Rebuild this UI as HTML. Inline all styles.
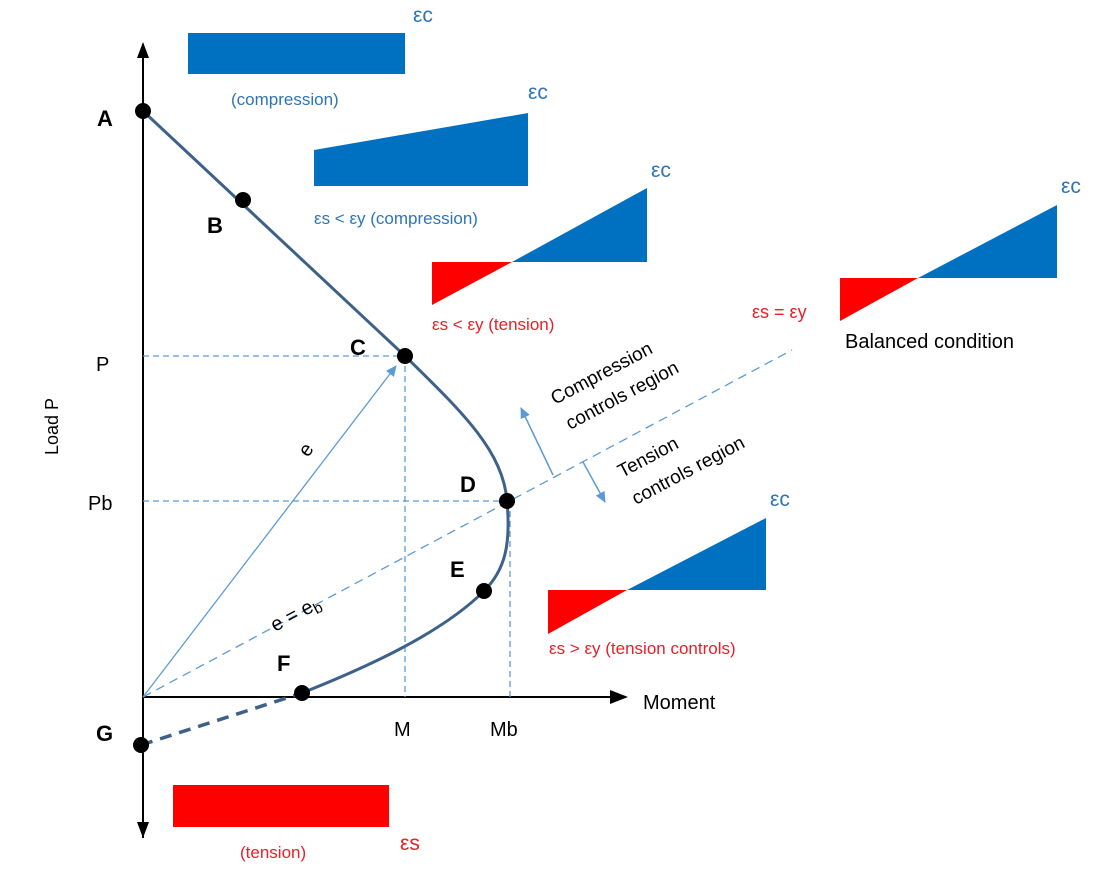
<!DOCTYPE html>
<html><head><meta charset="utf-8"><style>
html,body{margin:0;padding:0;background:#fff}
svg text{font-family:"Liberation Sans","DejaVu Sans",sans-serif}
</style></head><body>
<svg width="1104" height="876" viewBox="0 0 1104 876" xmlns="http://www.w3.org/2000/svg">
<defs>
<marker id="bh" markerWidth="12" markerHeight="12" refX="10" refY="6" orient="auto" markerUnits="userSpaceOnUse"><path d="M0,1 L11,6 L0,11 z" fill="#5b9bd5"/></marker>
</defs>
<line x1="143" y1="838" x2="143" y2="44" stroke="#000" stroke-width="2"/>
<path d="M137,58 L143,42 L149,58 z" fill="#000"/>
<path d="M137,822 L143,838 L149,822 z" fill="#000"/>
<line x1="143" y1="697" x2="612" y2="697" stroke="#000" stroke-width="2"/>
<path d="M610,690 L628,697 L610,704 z" fill="#000"/>
<g stroke="#5b9bd5" stroke-width="1.3" stroke-dasharray="6,4" fill="none">
<line x1="143" y1="356" x2="405" y2="356"/>
<line x1="143" y1="501" x2="507" y2="501"/>
<line x1="405" y1="356" x2="405" y2="697"/>
<line x1="510" y1="501" x2="510" y2="697"/>
<line x1="143" y1="697" x2="792" y2="350" stroke-dasharray="9,6"/>
</g>
<line x1="143" y1="697" x2="396" y2="366" stroke="#5b9bd5" stroke-width="1.3" marker-end="url(#bh)"/>
<line x1="553" y1="475" x2="521" y2="408" stroke="#5b9bd5" stroke-width="1.5" marker-end="url(#bh)"/>
<line x1="583" y1="462" x2="605" y2="502" stroke="#5b9bd5" stroke-width="1.5" marker-end="url(#bh)"/>
<path d="M143,111 L405,356 C460,410 503,450 507,501 C511,545 505,570 484,591 C440,635 360,670 302,693" stroke="#3d6189" stroke-width="3" fill="none"/>
<line x1="141" y1="745" x2="296" y2="695" stroke="#3d6189" stroke-width="3.5" stroke-dasharray="12,8"/>
<g fill="#000">
<circle cx="143" cy="111" r="8"/><circle cx="243" cy="200" r="8"/><circle cx="405" cy="356" r="8"/>
<circle cx="507" cy="501" r="8"/><circle cx="484" cy="591" r="8"/><circle cx="302" cy="693" r="8"/><circle cx="141" cy="745" r="8"/>
</g>
<g font-weight="bold" font-size="22" fill="#000">
<text x="97" y="126">A</text><text x="207" y="233">B</text><text x="350" y="355">C</text>
<text x="460" y="492">D</text><text x="450" y="577">E</text><text x="277" y="671">F</text><text x="96" y="741">G</text>
</g>
<g font-size="20" fill="#000">
<text x="96" y="371">P</text><text x="88" y="510">Pb</text><text x="394" y="736">M</text><text x="490" y="736">Mb</text>
<text x="643" y="709">Moment</text>
<text x="0" y="0" font-size="18" transform="translate(58,455) rotate(-90)">Load P</text>
<text x="0" y="0" transform="translate(308,458) rotate(-55)">e</text>
<text x="0" y="0" transform="translate(275,632) rotate(-28)">e = e<tspan font-size="15" dy="4">b</tspan></text>
<text x="0" y="0" font-size="19" transform="translate(555,405) rotate(-28)">Compression</text>
<text x="0" y="0" font-size="19" transform="translate(570,430) rotate(-28)">controls region</text>
<text x="0" y="0" font-size="19" transform="translate(622,478) rotate(-28)">Tension</text>
<text x="0" y="0" font-size="19" transform="translate(636,505) rotate(-28)">controls region</text>
<text x="845" y="348">Balanced condition</text>
</g>
<rect x="188" y="33" width="217" height="41" fill="#0070c0"/>
<path d="M314,150 L528,113 L528,186 L314,186 z" fill="#0070c0"/>
<path d="M432,262 L512,262 L432,305 z" fill="#ff0000"/><path d="M512,262 L647,188 L647,262 z" fill="#0070c0"/>
<path d="M840,278 L918,278 L840,321 z" fill="#ff0000"/><path d="M918,278 L1057,205 L1057,278 z" fill="#0070c0"/>
<path d="M548,590 L627,590 L548,634 z" fill="#ff0000"/><path d="M627,590 L766,518 L766,590 z" fill="#0070c0"/>
<rect x="173" y="785" width="216" height="42" fill="#ff0000"/>
<g font-size="21" fill="#2e75b6">
<text x="413" y="22">εc</text><text x="231" y="105" font-size="17">(compression)</text>
<text x="528" y="99">εc</text><text x="314" y="224" font-size="17">εs &lt; εy (compression)</text>
<text x="651" y="177">εc</text><text x="1061" y="193">εc</text><text x="770" y="506">εc</text>
</g>
<g font-size="17" fill="#e8202a">
<text x="432" y="330">εs &lt; εy (tension)</text>
<text x="752" y="318" font-size="18">εs = εy</text>
<text x="549" y="654">εs &gt; εy (tension controls)</text>
<text x="240" y="858">(tension)</text>
<text x="400" y="850" font-size="21">εs</text>
</g>
</svg>
</body></html>
